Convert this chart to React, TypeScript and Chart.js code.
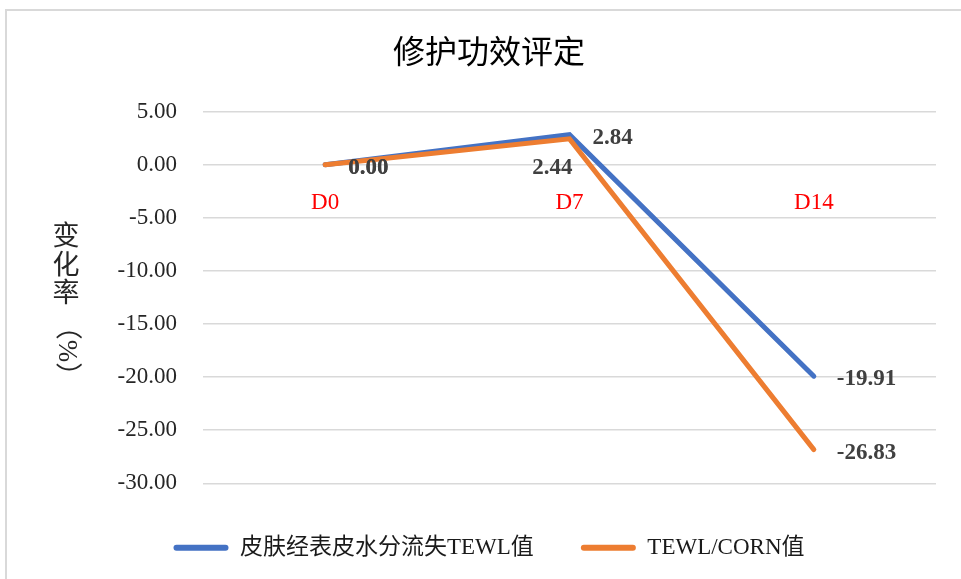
import React, { useEffect, useRef } from 'react';
import { Chart, registerables } from 'chart.js';

Chart.register(...registerables);

// ---- data ----
const CATEGORIES = ['D0', 'D7', 'D14'];
const SERIES_NAMES = ['皮肤经表皮水分流失TEWL值', 'TEWL/CORN值'];
const TEWL_VALUES = [0.0, 2.84, -19.91];
const TEWL_CORN_VALUES = [0.0, 2.44, -26.83];
const Y_MIN = -30;
const Y_MAX = 5;
const Y_STEP = 5;
const CHART_TITLE = '修护功效评定';
const Y_TITLE_UPRIGHT = ['变', '化', '率'];
const Y_TITLE_ROTATED = '（%）';

// ---- styles ----
const SERIF = "'Liberation Serif', 'Noto Sans CJK SC', serif";
const CJK = "'Noto Sans CJK SC', sans-serif";
const COLORS = ['#4472C4', '#ED7D31'];
const LABEL_PLACEMENT = [
  ['right', 'right', 'right'],
  ['right', 'belowLeft', 'right'],
];

const borderPlugin = {
  id: 'outerBorder',
  beforeDraw(chart: any) {
    const ctx = chart.ctx;
    ctx.save();
    ctx.strokeStyle = '#d9d9d9';
    ctx.lineWidth = 2;
    ctx.beginPath();
    ctx.moveTo(6, 2000);
    ctx.lineTo(6, 10);
    ctx.lineTo(2000, 10);
    ctx.stroke();
    ctx.restore();
  },
};

const yTitlePlugin = {
  id: 'verticalYTitle',
  afterDraw(chart: any) {
    const ctx = chart.ctx;
    ctx.save();
    ctx.font = `27px ${CJK}`;
    ctx.fillStyle = '#262626';
    ctx.textAlign = 'center';
    ctx.textBaseline = 'middle';
    const x = 66;
    const ys = [235, 263.5, 292];
    Y_TITLE_UPRIGHT.forEach((ch, i) => ctx.fillText(ch, x, ys[i]));
    ctx.translate(x, 351);
    ctx.rotate(Math.PI / 2);
    ctx.font = `27px ${SERIF}`;
    ctx.fillText(Y_TITLE_ROTATED, 0, 0);
    ctx.restore();
  },
};

const dataLabelPlugin = {
  id: 'dataLabels',
  afterDatasetsDraw(chart: any) {
    const ctx = chart.ctx;
    ctx.save();
    ctx.font = `bold 23px ${SERIF}`;
    ctx.fillStyle = '#404040';
    ctx.textBaseline = 'middle';
    chart.data.datasets.forEach((ds: any, di: number) => {
      const meta = chart.getDatasetMeta(di);
      meta.data.forEach((pt: any, i: number) => {
        const txt = Number(ds.data[i]).toFixed(2);
        const place = LABEL_PLACEMENT[di][i];
        if (place === 'belowLeft') {
          ctx.textAlign = 'right';
          ctx.fillText(txt, pt.x + 3, pt.y + 29);
        } else {
          ctx.textAlign = 'left';
          ctx.fillText(txt, pt.x + 23, pt.y + 3);
        }
      });
    });
    ctx.restore();
  },
};

export default function App() {
  const ref = useRef<HTMLCanvasElement | null>(null);

  useEffect(() => {
    if (!ref.current) return;
    const seriesValues = [TEWL_VALUES, TEWL_CORN_VALUES];
    const chart = new Chart(ref.current, {
      type: 'line',
      data: {
        labels: CATEGORIES,
        datasets: SERIES_NAMES.map((name, i) => ({
          label: name,
          data: seriesValues[i],
          borderColor: COLORS[i],
          backgroundColor: COLORS[i],
          borderWidth: 5,
          borderCapStyle: 'round',
          borderJoinStyle: 'miter',
          pointRadius: 0,
          tension: 0,
          order: i === 0 ? 1 : 0,
        })),
      },
      options: {
        animation: false,
        responsive: false,
        devicePixelRatio: 1,
        layout: { padding: { top: 15, left: 42, right: 25, bottom: 9.7 } },
        scales: {
          x: {
            type: 'category',
            position: { y: 0 } as any,
            offset: true,
            grid: { display: false },
            border: { display: false },
            ticks: {
              color: '#FF0000',
              font: { family: SERIF, size: 23 },
              padding: 16,
              maxRotation: 0,
            },
            afterFit: (scale: any) => {
              scale.height = 0;
            },
          },
          y: {
            min: Y_MIN,
            max: Y_MAX,
            position: 'left',
            ticks: {
              stepSize: Y_STEP,
              color: '#262626',
              font: { family: SERIF, size: 23 },
              padding: 26,
              callback: (v: any) => Number(v).toFixed(2),
            },
            grid: { color: '#d9d9d9', lineWidth: 1.5, drawTicks: false },
            border: { display: false },
            afterFit: (scale: any) => {
              scale.width = 161;
            },
          },
        },
        plugins: {
          title: {
            display: true,
            text: CHART_TITLE,
            color: '#000000',
            font: { family: CJK, size: 32, weight: 'normal' },
            padding: { top: 17, bottom: 41.3 },
          },
          legend: {
            display: true,
            position: 'bottom',
            title: { display: true, text: '', font: { size: 5 }, padding: 0 },
            labels: {
              boxWidth: 55,
              boxHeight: 6,
              padding: 47,
              color: '#1a1a1a',
              font: { family: SERIF, size: 23 },
              generateLabels: (c: any) =>
                c.data.datasets.map((ds: any, i: number) => ({
                  text: ds.label,
                  fillStyle: ds.borderColor,
                  strokeStyle: ds.borderColor,
                  lineWidth: 0,
                  borderRadius: 3,
                  hidden: false,
                  datasetIndex: i,
                  fontColor: '#1a1a1a',
                })),
            },
          },
          tooltip: { enabled: false },
        },
      },
      plugins: [borderPlugin, yTitlePlugin, dataLabelPlugin],
    } as any);
    return () => chart.destroy();
  }, []);

  return (
    <div style={{ position: 'fixed', left: 0, top: 0, width: 961, height: 579, background: '#fff' }}>
      <canvas ref={ref} width={961} height={579} style={{ display: 'block' }} />
    </div>
  );
}
